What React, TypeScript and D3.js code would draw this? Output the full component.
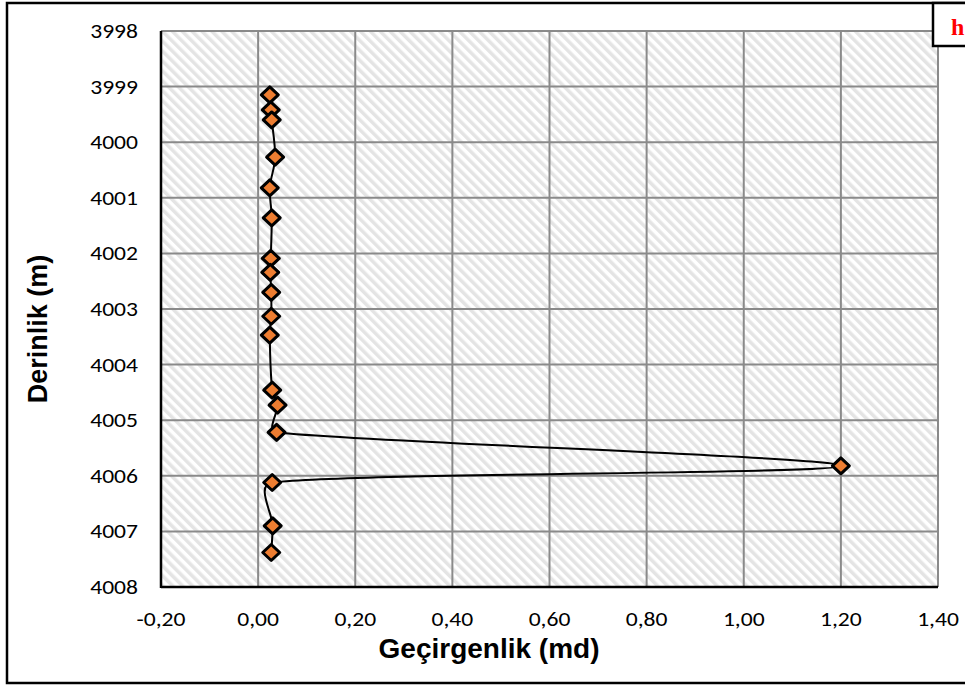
import React from "react";
import * as d3 from "d3";

const depths = [3999.15, 3999.42, 3999.6, 4000.27, 4000.82, 4001.36, 4002.09, 4002.34, 4002.7, 4003.13, 4003.47, 4004.46, 4004.73, 4005.22, 4005.82, 4006.12, 4006.9, 4007.38];
const perm = [0.024, 0.026, 0.028, 0.035, 0.024, 0.028, 0.026, 0.025, 0.027, 0.027, 0.024, 0.029, 0.04, 0.038, 1.2, 0.029, 0.03, 0.027];
const xTicks = [-0.2, 0, 0.2, 0.4, 0.6, 0.8, 1.0, 1.2, 1.4];
const yTicks = [3998, 3999, 4000, 4001, 4002, 4003, 4004, 4005, 4006, 4007, 4008];
const xTitle = "Geçirgenlik (md)";
const yTitle = "Derinlik (m)";
const cornerLabel = "h";

// Excel-like smoothed line: cubic Bezier with tangents (P[i+1]-P[i-1])/6,
// each arm clamped to a fraction of its adjacent segment length.
function smoothPath(pts: [number, number][]): string {
  const n = pts.length;
  if (n < 2) return "";
  const tan = pts.map((p, i) => {
    const a = pts[Math.max(0, i - 1)];
    const b = pts[Math.min(n - 1, i + 1)];
    return [(b[0] - a[0]) / 6, (b[1] - a[1]) / 6];
  });
  const clamp = (t: number[], segLen: number) => {
    const len = Math.hypot(t[0], t[1]);
    const maxLen = 0.4 * segLen;
    if (len > maxLen && len > 0) {
      const k = maxLen / len;
      return [t[0] * k, t[1] * k];
    }
    return t;
  };
  const path = d3.path();
  path.moveTo(pts[0][0], pts[0][1]);
  for (let i = 0; i < n - 1; i++) {
    const p0 = pts[i], p1 = pts[i + 1];
    const seg = Math.hypot(p1[0] - p0[0], p1[1] - p0[1]);
    const t0 = clamp(tan[i], seg);
    const t1 = clamp(tan[i + 1], seg);
    path.bezierCurveTo(p0[0] + t0[0], p0[1] + t0[1], p1[0] - t1[0], p1[1] - t1[1], p1[0], p1[1]);
  }
  return path.toString();
}

export default function App() {
  const W = 965, H = 686;
  const L = 161, R = 938, T = 31, B = 587;
  const x = d3.scaleLinear().domain([-0.2, 1.4]).range([L, R]);
  const y = d3.scaleLinear().domain([3998, 4008]).range([T, B]);
  const pts = depths.map((d, i) => [x(perm[i]), y(d)] as [number, number]);
  const line = smoothPath(pts);
  const fmt = (v: number) => v.toFixed(2).replace(".", ",").replace("-0,00", "0,00");
  const sx = 1.18;
  const tickFont = "Carlito, Calibri, Lato, 'Open Sans', sans-serif";
  return (
    <svg width={W} height={H} style={{ position: "absolute", left: 0, top: 0 }}>
      <defs>
        <pattern id="hatch" patternUnits="userSpaceOnUse" width={7} height={7} patternTransform="rotate(-45)">
          <rect x={0} y={0} width={7} height={7} fill="#ffffff" />
          <rect x={0} y={0} width={3.5} height={7} fill="#e4e4e4" />
        </pattern>
      </defs>
      <rect x={0} y={0} width={W} height={H} fill="#fff" />
      <rect x={7} y={3} width={1000} height={680} fill="#fff" stroke="#000" strokeWidth={2.5} />
      <rect x={L} y={T} width={R - L} height={B - T} fill="url(#hatch)" />
      {xTicks.map((t) => (
        <line key={"gx" + t} x1={x(t)} x2={x(t)} y1={T} y2={B} stroke="#8a8a8a" strokeWidth={2} />
      ))}
      {yTicks.map((t) => (
        <line key={"gy" + t} x1={L} x2={R} y1={y(t)} y2={y(t)} stroke="#8a8a8a" strokeWidth={2} />
      ))}
      <line x1={L} x2={L} y1={T} y2={B + 1} stroke="#000" strokeWidth={2.5} />
      <line x1={L} x2={R} y1={B} y2={B} stroke="#000" strokeWidth={2.5} />
      <path d={line} fill="none" stroke="#000" strokeWidth={2} />
      {pts.map((p, i) => (
        <path key={"m" + i} d="M0,-8 L8.5,0 L0,8 L-8.5,0 Z" transform={`translate(${p[0]},${p[1]})`} fill="#ED7D31" stroke="#000" strokeWidth={3} strokeLinejoin="round" />
      ))}
      {yTicks.map((t) => (
        <text key={"ty" + t} transform={`translate(138,${y(t) + 7}) scale(${sx},1)`} textAnchor="end" fontFamily={tickFont} fontWeight={400} fontSize={20} fill="#000">{t}</text>
      ))}
      {xTicks.map((t) => (
        <text key={"tx" + t} transform={`translate(${x(t)},${626}) scale(${sx},1)`} textAnchor="middle" fontFamily={tickFont} fontWeight={400} fontSize={20} fill="#000">{fmt(t)}</text>
      ))}
      <text x={489} y={658} textAnchor="middle" fontFamily="'Liberation Sans', Arial, sans-serif" fontWeight="bold" fontSize={28} fill="#000">{xTitle}</text>
      <text transform={`translate(47,${(T + B) / 2 + 20}) rotate(-90)`} textAnchor="middle" fontFamily="'Liberation Sans', Arial, sans-serif" fontWeight="bold" fontSize={27} fill="#000">{yTitle}</text>
      <rect x={933} y={3} width={100} height={43} fill="#fff" stroke="#000" strokeWidth={2.5} />
      <text x={951} y={35} fontFamily="'Liberation Serif', 'Times New Roman', serif" fontWeight="bold" fontSize={24} fill="#ff0000">{cornerLabel}</text>
    </svg>
  );
}
